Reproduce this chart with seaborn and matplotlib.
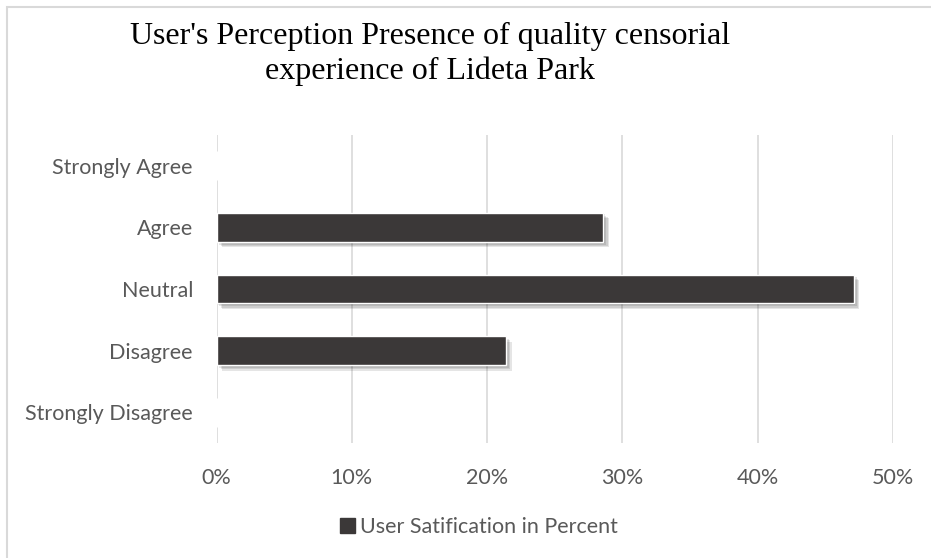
#!/usr/bin/env python3
"""Lideta Park perception chart."""
import matplotlib

matplotlib.use("Agg")
import matplotlib.patheffects as pe
import matplotlib.pyplot as plt
import pandas as pd
import seaborn as sns
from matplotlib.patches import Patch, Rectangle
from matplotlib.ticker import PercentFormatter

categories = ["Strongly Agree", "Agree", "Neutral", "Disagree", "Strongly Disagree"]
percent = [0.0, 0.286, 0.471, 0.214, 0.0]
x_ticks = [0.0, 0.1, 0.2, 0.3, 0.4, 0.5]
title_lines = ["User's Perception Presence of quality censorial",
               "experience of Lideta Park"]
series_name = "User Satification in Percent"

BAR = "#3b3838"
GRID = "#d9d9d9"
TEXT = "#595959"

sns.set_theme(style="white")
plt.rcParams["font.family"] = ["Lato", "DejaVu Sans"]

df = pd.DataFrame({"category": categories, "value": percent})

fig = plt.figure(figsize=(9.31, 5.58), dpi=100)
ax = fig.add_axes([216.5 / 931, 1 - 443 / 558, (893 - 216.5) / 931, (443 - 135) / 558])

sns.barplot(data=df, x="value", y="category", order=categories, color=BAR,
            saturation=1, width=0.47, ax=ax)
# soft drop shadow like the office chart
shadow = [pe.SimplePatchShadow(offset=(k, -k), alpha=0.10, shadow_rgbFace="black")
          for k in (1.0, 2.0, 3.0, 4.0)]
for p in ax.patches:
    p.set_path_effects(shadow + [pe.Normal()])

ax.set_xlim(0, 0.5)
ax.set_xticks(x_ticks)
ax.xaxis.set_major_formatter(PercentFormatter(1.0, decimals=0))
ax.grid(axis="x", color=GRID, linewidth=1.2)
ax.set_axisbelow(True)
for s in ax.spines.values():
    s.set_visible(False)
ax.set_xlabel("")
ax.set_ylabel("")
ax.tick_params(axis="x", length=0, pad=18, labelsize=15.5, labelcolor=TEXT)
ax.tick_params(axis="y", length=0, pad=17, labelsize=15.5, labelcolor=TEXT)

# title, two centered lines in a serif face
fig.text(430 / 931, 1 - 44 / 558, title_lines[0], ha="center", va="baseline",
         fontsize=23, family="Liberation Serif", color="black")
fig.text(430 / 931, 1 - 79 / 558, title_lines[1], ha="center", va="baseline",
         fontsize=23, family="Liberation Serif", color="black")

fig.legend(handles=[Patch(color=BAR, label=series_name)], loc="center",
           bbox_to_anchor=(479 / 931, 1 - 527 / 558), frameon=False,
           fontsize=15.5, labelcolor=TEXT, handlelength=0.7, handleheight=0.7,
           handletextpad=0.25)

# chart area border (cut off at right and bottom)
fig.patches.append(Rectangle((7 / 931, -0.05), 1.1, 1 - 7 / 558 + 0.05,
                             transform=fig.transFigure, fill=False,
                             edgecolor=GRID, linewidth=1.5))

fig.savefig("out.png", dpi=100)
